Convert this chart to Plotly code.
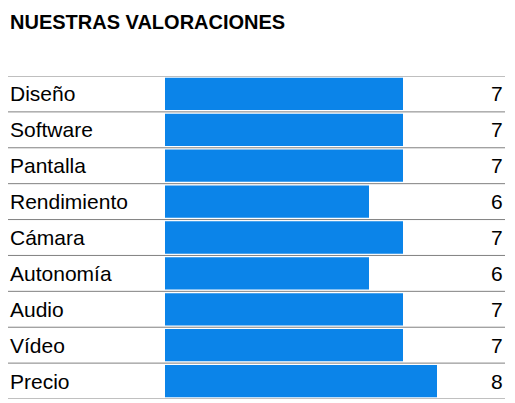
import plotly.graph_objects as go

categories = ["Diseño", "Software", "Pantalla", "Rendimiento", "Cámara", "Autonomía", "Audio", "Vídeo", "Precio"]
values = [7, 7, 7, 6, 7, 6, 7, 7, 8]

# page adds an 8px body margin; work in figure coordinates
W, H = 507, 395
L, R, T, B = 157, 10, 68, 4
pw = W - L - R
font = "Liberation Sans"

fig = go.Figure(go.Bar(x=values, y=categories, orientation="h",
                       marker=dict(color="#0b84e9", line_width=0), hoverinfo="skip"))

ann = []
shapes = []
lx = (0 - L) / pw
for c, v in zip(categories, values):
    ann.append(dict(xref="paper", yref="y", x=lx, y=c, text=c, showarrow=False,
                    xanchor="left", font=dict(size=21, color="black", family=font)))
    ann.append(dict(xref="x", yref="y", x=10, y=c, text=str(v), showarrow=False,
                    xanchor="right", font=dict(size=21, color="black", family=font)))
n = len(categories)
for k in range(n + 1):
    shapes.append(dict(type="line", xref="paper", yref="y", x0=lx, x1=1, y0=k - 0.5, y1=k - 0.5,
                       line=dict(color="#808080", width=1)))

ann.append(dict(xref="paper", yref="paper", x=lx, y=1 + (T - 14) / (H - T - B),
                text="<b>NUESTRAS VALORACIONES</b>", showarrow=False, xanchor="left", yanchor="middle",
                font=dict(size=20, color="black", family=font)))

fig.update_layout(width=W, height=H, margin=dict(l=L, r=R, t=T, b=B),
                  paper_bgcolor="white", plot_bgcolor="white", bargap=0.1, showlegend=False,
                  xaxis=dict(range=[0, 10], visible=False, fixedrange=True),
                  yaxis=dict(visible=False, autorange=False, range=[n - 0.5, -0.5]),
                  annotations=ann, shapes=shapes)
fig.write_html("out.html")
